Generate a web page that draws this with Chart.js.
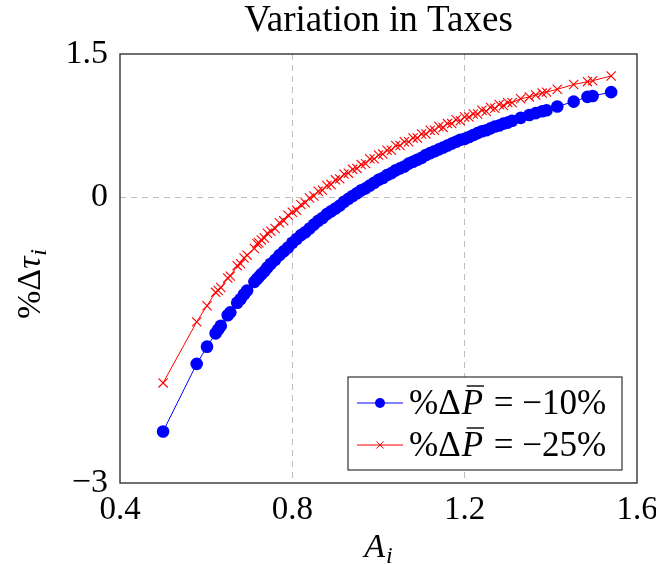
<!DOCTYPE html>
<html><head><meta charset="utf-8">
<script src="https://cdn.jsdelivr.net/npm/chart.js@4/dist/chart.umd.min.js"></script>
<style>html,body{margin:0;padding:0;background:#fff}#wrap{width:656px;height:564px}</style>
</head><body><div id="wrap"><canvas id="c" width="656" height="564"></canvas></div>
<script>
const xValues = [0.50,0.578,0.602,0.622,0.628,0.634,0.650,0.656,0.672,0.680,0.688,0.695,0.712,0.718,0.722,0.728,0.735,0.742,0.75,
0.76,0.77,0.78,0.79,0.80,0.81,0.82,0.83,0.84,0.85,0.86,0.87,0.88,0.89,0.90,0.91,0.92,0.93,0.94,0.95,0.96,0.97,0.98,0.99,
1.00,1.01,1.02,1.03,1.04,1.05,1.06,1.07,1.08,1.09,1.10,1.11,1.12,1.13,1.14,1.15,1.16,1.17,1.18,1.19,1.20,1.21,1.22,1.23,1.24,1.25,1.26,1.27,1.28,1.29,1.30,1.31,
1.33,1.35,1.365,1.38,1.39,1.415,1.453,1.485,1.497,1.54];
const blueValues = [-2.46,-1.75,-1.57,-1.43,-1.39,-1.35,-1.24,-1.21,-1.11,-1.07,-1.02,-0.98,-0.89,-0.86,-0.84,-0.81,-0.78,-0.74,-0.70,
-0.66,-0.61,-0.57,-0.53,-0.48,-0.44,-0.40,-0.37,-0.33,-0.29,-0.25,-0.22,-0.18,-0.15,-0.12,-0.09,-0.05,-0.02,0.01,0.04,0.07,0.09,0.12,0.15,
0.18,0.20,0.23,0.25,0.28,0.30,0.32,0.35,0.37,0.39,0.41,0.44,0.46,0.48,0.50,0.52,0.54,0.56,0.58,0.60,0.61,0.63,0.65,0.67,0.69,0.70,0.72,0.74,0.75,0.77,0.78,0.80,
0.83,0.86,0.88,0.90,0.91,0.95,1.00,1.05,1.06,1.10];
const redValues = [-1.95,-1.31,-1.14,-1.00,-0.98,-0.95,-0.85,-0.83,-0.72,-0.70,-0.64,-0.61,-0.54,-0.49,-0.48,-0.45,-0.43,-0.38,-0.36,
-0.33,-0.27,-0.25,-0.19,-0.16,-0.14,-0.08,-0.06,-0.01,0.01,0.06,0.07,0.12,0.13,0.18,0.19,0.24,0.25,0.29,0.30,0.34,0.35,0.40,0.40,
0.44,0.45,0.49,0.49,0.54,0.54,0.58,0.58,0.62,0.62,0.66,0.66,0.70,0.70,0.74,0.73,0.77,0.77,0.81,0.80,0.84,0.84,0.87,0.87,0.91,0.90,0.94,0.93,0.97,0.96,0.99,0.99,
1.03,1.05,1.07,1.09,1.10,1.13,1.18,1.21,1.22,1.27];
const xTickValues = [0.4, 0.8, 1.2, 1.6];
const xTickLabels = ['0.4', '0.8', '1.2', '1.6'];
const yTickValues = [-3, 0, 1.5];
const yTickLabels = ['\u22123', '0', '1.5'];
const seriesSuffix = [' = \u221210%', ' = \u221225%'];
const seriesNames = ['%\u0394P\u0304 = \u221210%', '%\u0394P\u0304 = \u221225%'];
const titleText = 'Variation in Taxes';
const FONT = "'Liberation Serif', 'Times New Roman', serif";
const BLUE = '#0000ff', RED = '#ff0000';

const decor = {
  id: 'decor',
  afterDraw(chart) {
    const {ctx, chartArea: a} = chart;
    ctx.save();
    ctx.strokeStyle = '#333'; ctx.lineWidth = 1.4;
    ctx.strokeRect(a.left, a.top, a.right - a.left, a.bottom - a.top);
    ctx.fillStyle = '#000';
    ctx.textBaseline = 'alphabetic';
    // x axis title A_i
    ctx.font = 'italic 34px ' + FONT;
    const wA = ctx.measureText('A').width;
    ctx.font = 'italic 24px ' + FONT;
    const wi = ctx.measureText('i').width;
    let x0 = (a.left + a.right) / 2 - (wA + wi + 1) / 2;
    ctx.font = 'italic 34px ' + FONT;
    ctx.textAlign = 'left';
    ctx.fillText('A', x0, 557);
    ctx.font = 'italic 24px ' + FONT;
    ctx.fillText('i', x0 + wA + 1, 563);
    // y axis title %Δτ_i
    ctx.save();
    ctx.translate(40, 284);
    ctx.rotate(-Math.PI / 2);
    ctx.font = '34px ' + FONT;
    const w1 = ctx.measureText('%\u0394').width;
    ctx.font = 'italic 34px ' + FONT;
    const w2 = ctx.measureText('\u03c4').width;
    ctx.font = 'italic 24px ' + FONT;
    const w3 = ctx.measureText('i').width;
    let sx = -(w1 + w2 + w3 + 1) / 2;
    ctx.font = '34px ' + FONT;
    ctx.fillText('%\u0394', sx, 0);
    ctx.font = 'italic 34px ' + FONT;
    ctx.fillText('\u03c4', sx + w1, 0);
    ctx.font = 'italic 24px ' + FONT;
    ctx.fillText('i', sx + w1 + w2 + 1, 6);
    ctx.restore();
    // legend
    const L = 348, T = 377, R = 622, B = 470;
    ctx.fillStyle = '#fff';
    ctx.fillRect(L, T, R - L, B - T);
    ctx.strokeStyle = '#333'; ctx.lineWidth = 1.2;
    ctx.strokeRect(L, T, R - L, B - T);
    const rows = [403, 445];
    const cols = [BLUE, RED];
    rows.forEach((yc, k) => {
      ctx.strokeStyle = cols[k]; ctx.lineWidth = 1;
      ctx.beginPath(); ctx.moveTo(357, yc); ctx.lineTo(403, yc); ctx.stroke();
      if (k === 0) {
        ctx.fillStyle = BLUE;
        ctx.beginPath(); ctx.arc(380, yc, 5, 0, Math.PI * 2); ctx.fill();
      } else {
        ctx.beginPath();
        ctx.moveTo(376.5, yc - 3.5); ctx.lineTo(383.5, yc + 3.5);
        ctx.moveTo(376.5, yc + 3.5); ctx.lineTo(383.5, yc - 3.5);
        ctx.stroke();
      }
      ctx.fillStyle = '#000';
      const bl = yc + 11;
      let tx = 409;
      ctx.font = '35px ' + FONT;
      ctx.fillText('%\u0394', tx, bl);
      tx += ctx.measureText('%\u0394').width + 1;
      ctx.font = 'italic 35px ' + FONT;
      const wP = ctx.measureText('P').width;
      ctx.fillText('P', tx, bl);
      ctx.strokeStyle = '#000'; ctx.lineWidth = 1.4;
      ctx.beginPath(); ctx.moveTo(tx + 5, bl - 28); ctx.lineTo(tx + wP + 1, bl - 28); ctx.stroke();
      tx += wP + 2;
      ctx.font = '35px ' + FONT;
      ctx.fillText(seriesSuffix[k], tx, bl);
    });
    ctx.restore();
  }
};

new Chart(document.getElementById('c'), {
  type: 'scatter',
  data: { datasets: [
    { label: seriesNames[0], data: xValues.map((x, i) => ({x: x, y: blueValues[i]})), showLine: true,
      borderColor: BLUE, backgroundColor: BLUE, borderWidth: 1, pointRadius: 6.3, pointStyle: 'circle',
      pointBorderWidth: 0, order: 2 },
    { label: seriesNames[1], data: xValues.map((x, i) => ({x: x, y: redValues[i]})), showLine: true,
      borderColor: RED, backgroundColor: RED, borderWidth: 1, pointRadius: 6.5, pointStyle: 'crossRot',
      pointBorderWidth: 1.1, pointBorderColor: RED, order: 1 }
  ]},
  options: {
    responsive: false, animation: false, devicePixelRatio: 1,
    layout: { padding: { left: 0, right: 19, top: 0, bottom: 0 } },
    plugins: {
      legend: { display: false }, tooltip: { enabled: false },
      title: { display: true, text: titleText, fullSize: false, color: '#000',
        font: { family: FONT, size: 37, weight: 'normal', lineHeight: 1.0 }, padding: { top: 3, bottom: 14 } }
    },
    scales: {
      x: { type: 'linear', min: 0.4, max: 1.6,
        afterBuildTicks: s => { s.ticks = xTickValues.map(v => ({value: v})); },
        afterFit: s => { s.height = 81; s.paddingLeft = 0; s.paddingRight = 0; },
        ticks: { callback: (v, i) => xTickLabels[i], font: { family: FONT, size: 33 }, color: '#000', padding: 8, maxRotation: 0, autoSkip: false },
        grid: { drawTicks: false, lineWidth: 1, color: c => (c.index === 0 || c.index === xTickValues.length - 1) ? 'rgba(0,0,0,0)' : '#bdbdbd' },
        border: { display: false, dash: [6, 5] } },
      y: { type: 'linear', min: -3, max: 1.5,
        afterBuildTicks: s => { s.ticks = yTickValues.map(v => ({value: v})); },
        afterFit: s => { s.width = 120; s.paddingTop = 0; s.paddingBottom = 0; },
        ticks: { callback: (v, i) => yTickLabels[i], font: { family: FONT, size: 34 }, color: '#000', padding: 12, autoSkip: false },
        grid: { drawTicks: false, lineWidth: 1, color: c => (c.index === 0 || c.index === yTickValues.length - 1) ? 'rgba(0,0,0,0)' : '#bdbdbd' },
        border: { display: false, dash: [6, 5] } }
    }
  },
  plugins: [decor]
});
</script></body></html>
